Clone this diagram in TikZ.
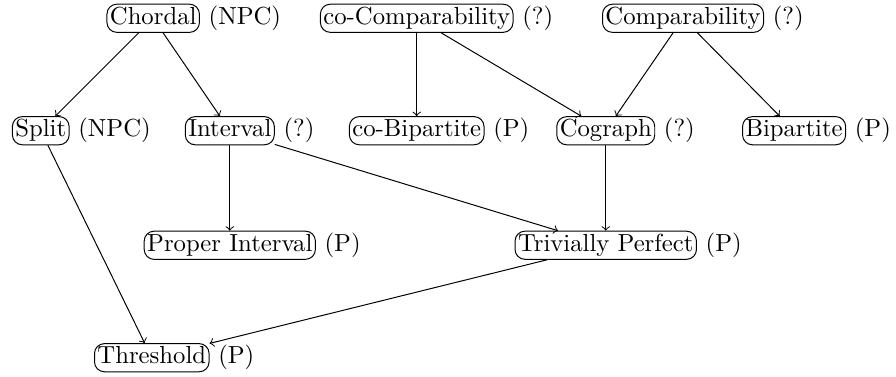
\documentclass[tikz,border=0pt]{standalone}
\usepackage{amsmath}
\usepackage{tikz}
\usetikzlibrary{arrows}
\tikzset{gclass/.style = {draw, rounded corners=4pt, inner sep=1.2pt,
                          text height=7pt, text depth=2pt}}

\begin{document}
\begin{tikzpicture}
      \useasboundingbox (0, 0) rectangle (12.75, -5.364);

      \node [gclass, label=right:(NPC)] (chordal) at (2.18, -0.26) {Chordal};
      \node [gclass, label=right:(?)] (cocomp) at (5.93, -0.26) {co-Comparability};
      \node [gclass, label=right:(?)] (comp) at (9.72, -0.26) {Comparability};

      \node [gclass, label=right:(NPC)] (split) at (0.58, -1.86) {Split};
      \node [gclass, label=right:(?)] (interval) at (3.27, -1.86) {Interval};
      \node [gclass, label=right:(P)] (cobip) at (5.93, -1.86) {co-Bipartite};
      \node [gclass, label=right:(?)] (cograph) at (8.62, -1.86) {Cograph};
      \node [gclass, label=right:(P)] (bip) at (11.30, -1.86) {Bipartite};

      \node [gclass, label=right:(P)] (propint) at (3.27, -3.49) {Proper Interval};
      \node [gclass, label=right:(P)] (trivperf) at (8.62, -3.49) {Trivially Perfect};

      \node [gclass, label=right:(P)] (threshold) at (2.16, -5.09) {Threshold};

      \draw [->] (chordal) -- (split);
      \draw [->] (chordal) -- (interval);
      \draw [->] (cocomp) -- (cobip);
      \draw [->] (cocomp) -- (cograph);
      \draw [->] (comp) -- (cograph);
      \draw [->] (comp) -- (bip);
      \draw [->] (interval) -- (propint);
      \draw [->] (interval) -- (trivperf);
      \draw [->] (cograph) -- (trivperf);
      \draw [->] (split) -- (threshold);
      \draw [->] (trivperf) -- (threshold);
    \end{tikzpicture}
\end{document}
